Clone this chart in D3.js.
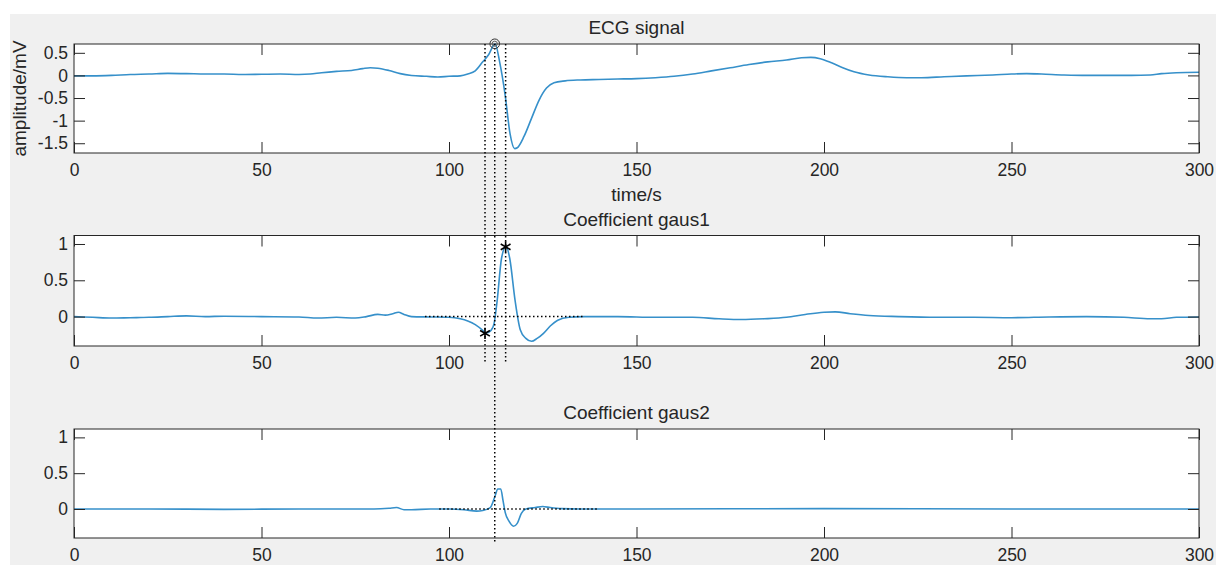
<!DOCTYPE html>
<html>
<head>
<meta charset="utf-8">
<script src="https://cdn.jsdelivr.net/npm/d3@7"></script>
<style>
  html, body { margin: 0; padding: 0; background: #ffffff; }
  svg { display: block; }
  text { font-family: "Liberation Sans", Arial, Helvetica, sans-serif; fill: #262626; }
</style>
</head>
<body>
<svg id="chart" width="1216" height="565"></svg>
<script>
// ---------------- DATA ----------------
const xTicks = [0, 50, 100, 150, 200, 250, 300];
const ecgYTicks = [-1.5, -1, -0.5, 0, 0.5];
const coefYTicks = [0, 0.5, 1];
const titles = ["ECG signal", "Coefficient gaus1", "Coefficient gaus2"];
const xLabel = "time/s";
const yLabel = "amplitude/mV";

// ECG signal (time, amplitude)
const ecgT = [0,5,10,15,20,25,30,35,40,45,50,55,60,63,66,70,74,77,79,81,84,87,90,94,97,100,103,105,107,109,110.5,112.3,113.5,115,116.3,117.5,118.2,120,122,124,126,128,131,135,140,145,150,155,160,165,170,175,180,185,190,194,196.5,199,202,205,208,212,217,222,226,232,238,245,250,254,258,264,270,276,282,287,290,294,300];
const ecgV = [-0.01,-0.01,0.0,0.02,0.03,0.045,0.04,0.03,0.03,0.02,0.025,0.03,0.02,0.03,0.06,0.09,0.11,0.15,0.17,0.16,0.11,0.04,0.0,-0.02,-0.035,-0.02,-0.01,0.03,0.1,0.3,0.45,0.70,0.3,-0.45,-1.3,-1.62,-1.6,-1.35,-0.95,-0.55,-0.28,-0.16,-0.12,-0.1,-0.09,-0.08,-0.07,-0.05,-0.02,0.03,0.1,0.17,0.24,0.3,0.34,0.39,0.4,0.37,0.28,0.17,0.08,0.01,-0.03,-0.05,-0.05,-0.03,-0.01,0.01,0.03,0.04,0.03,0.01,0.0,0.0,0.0,0.01,0.04,0.06,0.07];

// gaus1 coefficients
const g1T = [0,5,10,15,20,25,30,35,40,50,60,65,70,75,78,81,83,85,86.5,88,90,95,100,103,105,107,109,109.8,111.2,112,112.8,114,115.2,116.2,117.6,119,120.5,122,123.5,125.2,127,129,132,136,145,155,165,172,178,184,190,195,200,203,207,212,220,230,240,250,260,270,280,287,290,294,300];
const g1V = [0.0,-0.01,-0.02,-0.015,-0.01,0.0,0.01,0.0,0.005,0.0,-0.005,-0.02,-0.01,-0.02,0.0,0.03,0.02,0.04,0.06,0.03,0.0,-0.005,-0.01,-0.03,-0.06,-0.11,-0.19,-0.23,-0.19,-0.1,0.2,0.8,0.97,0.8,0.23,-0.18,-0.3,-0.34,-0.3,-0.23,-0.13,-0.05,-0.01,0.0,0.0,-0.01,-0.01,-0.03,-0.04,-0.03,-0.01,0.03,0.06,0.065,0.04,0.015,0.0,-0.01,-0.01,-0.015,-0.005,0.0,-0.01,-0.03,-0.03,-0.01,-0.005];

// gaus2 coefficients
const g2T = [0,20,40,60,80,84,86,88,90,95,100,104,107.4,109,111,112.4,113,113.8,114.4,115,116,117.2,118.2,119.3,120.5,123,125,127,130,135,150,200,250,300];
const g2V = [0.0,0.0,-0.005,0.0,0.0,0.01,0.02,-0.01,-0.01,0.0,0.0,-0.01,-0.03,-0.02,0.02,0.2,0.28,0.28,0.12,-0.05,-0.17,-0.24,-0.2,-0.06,0.0,0.02,0.035,0.02,0.005,0.0,0.0,0.005,0.0,0.0];

// annotation markers
const ecgPeak = { t: 112.2, v: 0.70 };
const g1MarkT = [109.6, 115.1];
const g1MarkV = [-0.23, 0.96];
const zeroLineG1 = [93.6, 135.7];
const zeroLineG2 = [97.4, 139.4];
// vertical guide lines: time, panel where it ends, value it ends at
const guideT = [109.6, 112.2, 115.1];
const guideEndPanel = [1, 2, 1];
const guideEndV = [-0.65, -0.49, -0.62];

// ---------------- LAYOUT ----------------
const W = 1216, H = 565;
const svg = d3.select("#chart");
svg.append("rect").attr("x", 10).attr("y", 14).attr("width", W - 10).attr("height", H - 14).attr("fill", "#f0f0f0");

const left = 74, right = 1199;
const panels = [
  { top: 44, bottom: 153, domain: [-1.716, 0.695], yTicks: ecgYTicks, T: ecgT, V: ecgV },
  { top: 235.5, bottom: 346, domain: [-0.405, 1.117], yTicks: coefYTicks, T: g1T, V: g1V },
  { top: 429, bottom: 538, domain: [-0.405, 1.117], yTicks: coefYTicks, T: g2T, V: g2V }
];

const x = d3.scaleLinear().domain([0, 300]).range([left, right]);
panels.forEach(p => { p.y = d3.scaleLinear().domain(p.domain).range([p.bottom, p.top]); });

const tickLen = 11;
const fmt = d => String(d);
const lineColor = "#3690ca";

panels.forEach((p, i) => {
  const g = svg.append("g");
  g.append("rect").attr("x", left).attr("y", p.top).attr("width", right - left).attr("height", p.bottom - p.top)
    .attr("fill", "#ffffff");

  const line = d3.line().x((d, k) => x(p.T[k])).y((d, k) => p.y(p.V[k])).curve(d3.curveMonotoneX);
  g.append("path").datum(p.V).attr("d", line).attr("fill", "none").attr("stroke", lineColor).attr("stroke-width", 1.6);

  const ax = [
    g.append("g").attr("transform", `translate(0,${p.bottom})`).call(d3.axisBottom(x).tickValues(xTicks).tickFormat(fmt).tickSize(-tickLen).tickPadding(11)),
    g.append("g").attr("transform", `translate(0,${p.top})`).call(d3.axisTop(x).tickValues(xTicks).tickFormat("").tickSize(-tickLen)),
    g.append("g").attr("transform", `translate(${left},0)`).call(d3.axisLeft(p.y).tickValues(p.yTicks).tickFormat(fmt).tickSize(-tickLen).tickPadding(6)),
    g.append("g").attr("transform", `translate(${right},0)`).call(d3.axisRight(p.y).tickValues(p.yTicks).tickFormat("").tickSize(-tickLen))
  ];
  ax.forEach(a => {
    a.select(".domain").remove();
    a.selectAll(".tick line").attr("stroke", "#262626").attr("stroke-width", 1);
    a.selectAll(".tick text").attr("font-size", 17.5).attr("fill", "#262626")
      .attr("font-family", '"Liberation Sans", Arial, Helvetica, sans-serif');
  });

  g.append("rect").attr("x", left).attr("y", p.top).attr("width", right - left).attr("height", p.bottom - p.top)
    .attr("fill", "none").attr("stroke", "#262626").attr("stroke-width", 1);

  g.append("text").attr("x", (left + right) / 2).attr("y", p.top - 10).attr("text-anchor", "middle")
    .attr("font-size", 19).text(titles[i]);
});

// axis labels (first panel)
svg.append("text").attr("x", (left + right) / 2).attr("y", 201).attr("text-anchor", "middle")
  .attr("font-size", 19).text(xLabel);
svg.append("text").attr("transform", `translate(26,${(panels[0].top + panels[0].bottom) / 2}) rotate(-90)`)
  .attr("text-anchor", "middle").attr("font-size", 19).text(yLabel);

// dotted annotations
const dot = sel => sel.attr("stroke", "#000").attr("stroke-width", 1.5).attr("stroke-dasharray", "1.5,2.5").attr("fill", "none");

guideT.forEach((t, k) => {
  const pe = panels[guideEndPanel[k]];
  dot(svg.append("line").attr("x1", x(t)).attr("x2", x(t)).attr("y1", panels[0].top).attr("y2", pe.y(guideEndV[k])));
});
dot(svg.append("line").attr("x1", x(zeroLineG1[0])).attr("x2", x(zeroLineG1[1])).attr("y1", panels[1].y(0)).attr("y2", panels[1].y(0)));
dot(svg.append("line").attr("x1", x(zeroLineG2[0])).attr("x2", x(zeroLineG2[1])).attr("y1", panels[2].y(0)).attr("y2", panels[2].y(0)));

// ECG peak marker (circle)
const pk = svg.append("g").attr("transform", `translate(${x(ecgPeak.t)},${panels[0].y(ecgPeak.v)})`);
pk.append("circle").attr("r", 4.8).attr("fill", "none").attr("stroke", "#333").attr("stroke-width", 1);
pk.append("circle").attr("r", 2.6).attr("fill", "none").attr("stroke", "#555").attr("stroke-width", 0.9);

// gaus1 extrema markers (asterisks)
const star = d3.symbol().type(d3.symbolAsterisk).size(90);
g1MarkT.forEach((t, k) => {
  svg.append("path").attr("d", star()).attr("transform", `translate(${x(t)},${panels[1].y(g1MarkV[k])})`)
    .attr("fill", "none").attr("stroke", "#000").attr("stroke-width", 1.6);
});
</script>
</body>
</html>
